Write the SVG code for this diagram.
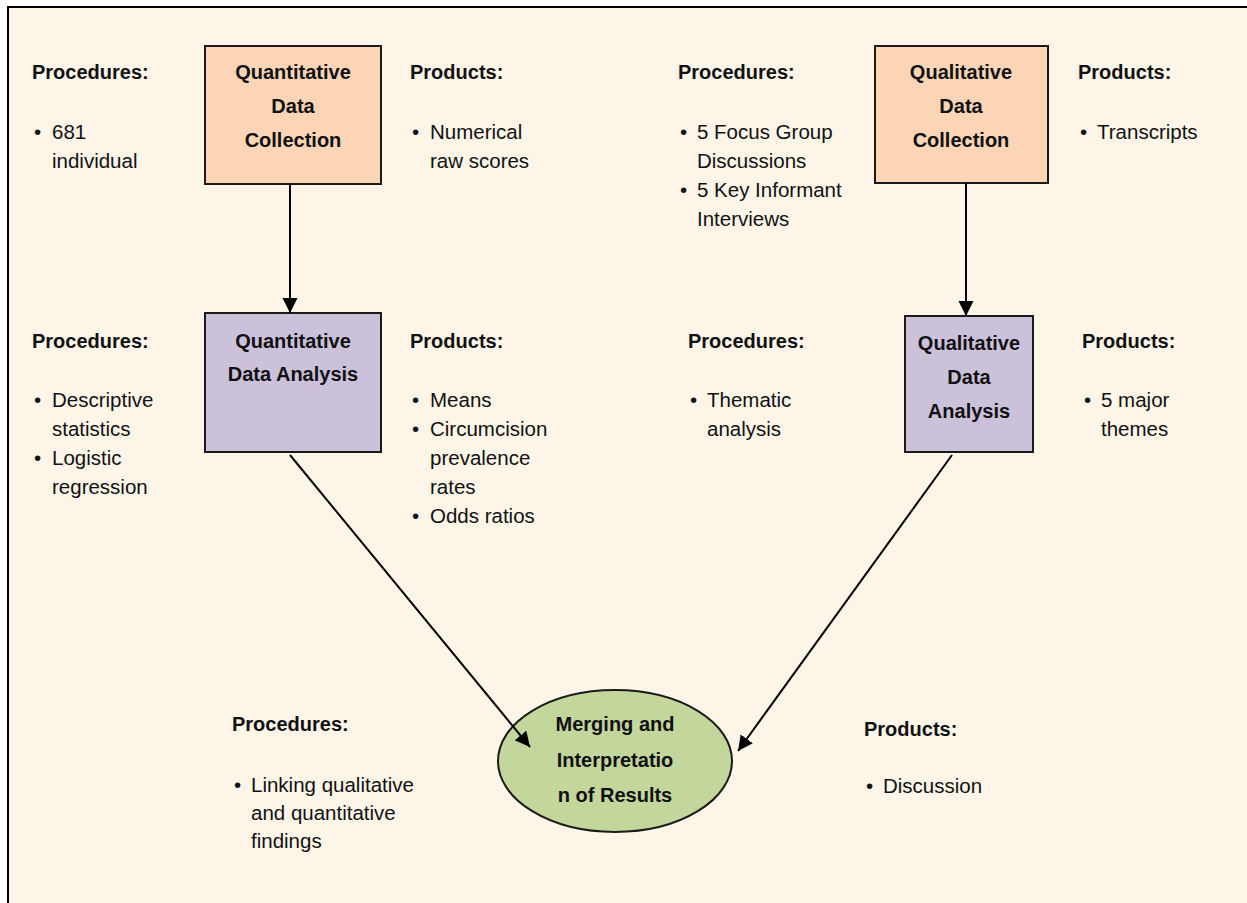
<svg xmlns="http://www.w3.org/2000/svg" width="1247" height="903" viewBox="0 0 1247 903">
<style>
.h{font-family:"Liberation Sans",Arial,sans-serif;font-weight:bold;font-size:20px;fill:#111}
.t{font-family:"Liberation Sans",Arial,sans-serif;font-size:20.5px;fill:#111}
.c{text-anchor:middle}
.box1{fill:#FBD5B6;stroke:#1a1a1a;stroke-width:2}
.box2{fill:#CCC1DA;stroke:#1a1a1a;stroke-width:2}
.ell{fill:#C3D69B;stroke:#1a1a1a;stroke-width:2}
.con{stroke:#000;stroke-width:2;fill:none;marker-end:url(#ah)}
</style>
<defs>
<marker id="ah" markerUnits="userSpaceOnUse" markerWidth="16" markerHeight="16" refX="15" refY="7.5" orient="auto">
<path d="M0,0 L15,7.5 L0,15 Z" fill="#000"/>
</marker>
</defs>
<rect x="0" y="0" width="1247" height="903" fill="#fff"/>
<rect x="8" y="7" width="1250" height="910" fill="#FDF5E8" stroke="#000" stroke-width="2"/>

<g id="n1">
<rect class="box1" x="205" y="46" width="176" height="138"/>
<text class="h c" x="293" y="79">Quantitative</text>
<text class="h c" x="293" y="113">Data</text>
<text class="h c" x="293" y="147">Collection</text>
</g>
<g id="n1-proc">
<text class="h" x="32" y="79">Procedures:</text>
<text class="t" x="34" y="139">•</text>
<text class="t" x="52" y="139">681</text>
<text class="t" x="52" y="168">individual</text>
</g>
<g id="n1-prod">
<text class="h" x="410" y="79">Products:</text>
<text class="t" x="412" y="139">•</text>
<text class="t" x="430" y="139">Numerical</text>
<text class="t" x="430" y="168">raw scores</text>
</g>

<g id="n2">
<rect class="box1" x="875" y="46" width="173" height="137"/>
<text class="h c" x="961" y="79">Qualitative</text>
<text class="h c" x="961" y="113">Data</text>
<text class="h c" x="961" y="147">Collection</text>
</g>
<g id="n2-proc">
<text class="h" x="678" y="79">Procedures:</text>
<text class="t" x="680" y="139">•</text>
<text class="t" x="697" y="139">5 Focus Group</text>
<text class="t" x="697" y="168">Discussions</text>
<text class="t" x="680" y="197">•</text>
<text class="t" x="697" y="197">5 Key Informant</text>
<text class="t" x="697" y="226">Interviews</text>
</g>
<g id="n2-prod">
<text class="h" x="1078" y="79">Products:</text>
<text class="t" x="1080" y="139">•</text>
<text class="t" x="1097" y="139">Transcripts</text>
</g>

<g id="n3">
<rect class="box2" x="205" y="313" width="176" height="139"/>
<text class="h c" x="293" y="348">Quantitative</text>
<text class="h c" x="293" y="381">Data Analysis</text>
</g>
<g id="n3-proc">
<text class="h" x="32" y="348">Procedures:</text>
<text class="t" x="34" y="407">•</text>
<text class="t" x="52" y="407">Descriptive</text>
<text class="t" x="52" y="436">statistics</text>
<text class="t" x="34" y="465">•</text>
<text class="t" x="52" y="465">Logistic</text>
<text class="t" x="52" y="494">regression</text>
</g>
<g id="n3-prod">
<text class="h" x="410" y="348">Products:</text>
<text class="t" x="412" y="407">•</text>
<text class="t" x="430" y="407">Means</text>
<text class="t" x="412" y="436">•</text>
<text class="t" x="430" y="436">Circumcision</text>
<text class="t" x="430" y="465">prevalence</text>
<text class="t" x="430" y="494">rates</text>
<text class="t" x="412" y="523">•</text>
<text class="t" x="430" y="523">Odds ratios</text>
</g>

<g id="n4">
<rect class="box2" x="905" y="316" width="128" height="136"/>
<text class="h c" x="969" y="350">Qualitative</text>
<text class="h c" x="969" y="384">Data</text>
<text class="h c" x="969" y="418">Analysis</text>
</g>
<g id="n4-proc">
<text class="h" x="688" y="348">Procedures:</text>
<text class="t" x="690" y="407">•</text>
<text class="t" x="707" y="407">Thematic</text>
<text class="t" x="707" y="436">analysis</text>
</g>
<g id="n4-prod">
<text class="h" x="1082" y="348">Products:</text>
<text class="t" x="1084" y="407">•</text>
<text class="t" x="1101" y="407">5 major</text>
<text class="t" x="1101" y="436">themes</text>
</g>

<g id="n5">
<ellipse class="ell" cx="615" cy="761" rx="117" ry="71"/>
<text class="h c" x="615" y="731">Merging and</text>
<text class="h c" x="615" y="767">Interpretatio</text>
<text class="h c" x="615" y="802">n of Results</text>
</g>
<g id="n5-proc">
<text class="h" x="232" y="731">Procedures:</text>
<text class="t" x="234" y="792">•</text>
<text class="t" x="251" y="792">Linking qualitative</text>
<text class="t" x="251" y="820">and quantitative</text>
<text class="t" x="251" y="848">findings</text>
</g>
<g id="n5-prod">
<text class="h" x="864" y="736">Products:</text>
<text class="t" x="866" y="793">•</text>
<text class="t" x="883" y="793">Discussion</text>
</g>

<g id="connectors">
<line class="con" x1="290" y1="184" x2="290" y2="313"/>
<line class="con" x1="966" y1="183" x2="966" y2="316"/>
<line class="con" x1="290" y1="455" x2="530" y2="747"/>
<line class="con" x1="952" y1="455" x2="738" y2="751"/>
</g>
</svg>
